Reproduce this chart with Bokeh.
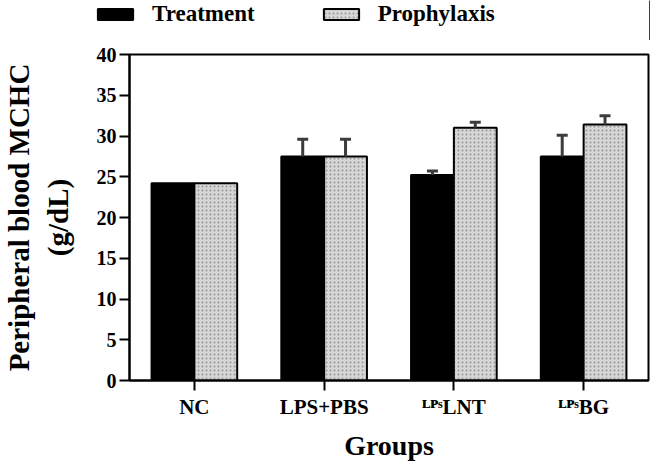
from bokeh.plotting import figure
from bokeh.layouts import column
from bokeh.models import (ColumnDataSource, Legend, LegendItem, FactorRange,
                          Range1d, FixedTicker)
from bokeh.transform import dodge
from bokeh.embed import file_html
from bokeh.resources import INLINE

# ---------------- data ----------------
groups = ["NC", "LPS+PBS", "\u1d38\u1d3e\u02e2LNT", "\u1d38\u1d3e\u02e2BG"]
treatment = [24.2, 27.5, 25.2, 27.5]
treatment_err = [0.0, 2.1, 0.5, 2.6]
prophylaxis = [24.2, 27.5, 31.0, 31.4]
prophylaxis_err = [0.0, 2.1, 0.7, 1.1]
y_ticks = [0, 5, 10, 15, 20, 25, 30, 35, 40]
series_names = ["Treatment", "Prophylaxis"]

# ---------------- style ----------------
FONT = "Liberation Serif"
BAR_W = 0.33
OFF = 0.165
ERR_COLOR = "#3c3c3c"
W = 650
LEG_H = 40
TREAT_STYLE = dict(fill_color="black", line_color="black", line_width=2)
PROPH_STYLE = dict(fill_color="#d6d6d6", line_color="black", line_width=2,
                   hatch_pattern="dot", hatch_color="#999999", hatch_scale=4,
                   hatch_weight=1.3)

# ---------------- main chart ----------------
p = figure(x_range=FactorRange(*groups), y_range=Range1d(0, 40),
           width=W, height=463 - LEG_H, output_backend="svg", toolbar_location=None,
           min_border_left=126, min_border_right=2, min_border_top=54 - LEG_H,
           min_border_bottom=77)
p.frame_align = False
p.background_fill_color = "white"
p.border_fill_color = "white"
p.outline_line_color = "black"
p.outline_line_width = 2
p.xgrid.visible = False
p.ygrid.visible = False

src_t = ColumnDataSource(dict(g=groups, v=treatment))
src_p = ColumnDataSource(dict(g=groups, v=prophylaxis))

p.vbar(x=dodge("g", -OFF, range=p.x_range), top="v", width=BAR_W, source=src_t,
       **TREAT_STYLE)
p.vbar(x=dodge("g", OFF, range=p.x_range), top="v", width=BAR_W, source=src_p,
       **PROPH_STYLE)

def err_source(vals, errs):
    g = [gg for gg, e in zip(groups, errs) if e > 0]
    lo = [v for v, e in zip(vals, errs) if e > 0]
    hi = [v + e for v, e in zip(vals, errs) if e > 0]
    return ColumnDataSource(dict(g=g, lo=lo, hi=hi))

for vals, errs, off in [(treatment, treatment_err, -OFF), (prophylaxis, prophylaxis_err, OFF)]:
    es = err_source(vals, errs)
    xx = dodge("g", off, range=p.x_range)
    p.segment(x0=xx, x1=xx, y0="lo", y1="hi", source=es, line_color=ERR_COLOR, line_width=3)
    p.scatter(x=xx, y="hi", source=es, marker="dash", size=11, line_color=ERR_COLOR,
              line_width=3)

for ax in (p.xaxis[0], p.yaxis[0]):
    ax.axis_line_width = 2
    ax.major_tick_line_width = 2
    ax.major_tick_out = 10
    ax.major_tick_in = 0
    ax.minor_tick_line_color = None
    ax.major_label_text_font = FONT
    ax.major_label_text_font_style = "bold"
    ax.major_label_text_color = "black"
    ax.axis_label_text_font = FONT
    ax.axis_label_text_font_style = "bold"
    ax.axis_label_text_color = "black"

p.yaxis.ticker = FixedTicker(ticks=y_ticks)
p.yaxis.major_label_text_font_size = "20px"
p.yaxis.major_label_standoff = 3
p.yaxis.axis_label = "Peripheral blood MCHC\n(g/dL)"
p.yaxis.axis_label_text_font_size = "29px"
p.yaxis.axis_label_standoff = 20

p.xaxis.major_label_text_font_size = "21px"
p.xaxis.major_label_standoff = 4
p.xaxis.axis_label = "Groups"
p.xaxis.axis_label_text_font_size = "28px"
p.xaxis.axis_label_standoff = 8

# ---------------- legend strip (own small figure above the chart) ----------------
lf = figure(width=W, height=LEG_H, x_range=Range1d(0, 1), y_range=Range1d(0, 1),
            x_axis_type=None, y_axis_type=None, output_backend="svg",
            toolbar_location=None, min_border_left=0, min_border_right=0,
            min_border_top=0, min_border_bottom=0)
lf.frame_align = False
lf.outline_line_color = None
lf.grid.visible = False
lf.background_fill_color = "white"
lf.border_fill_color = "white"
# legend-only key glyphs, kept outside the strip's visible range
key_src = ColumnDataSource(dict(x=[5.0], top=[1.0]))
lt = lf.vbar(x="x", top="top", width=0.1, source=key_src, **TREAT_STYLE)
lp = lf.vbar(x="x", top="top", width=0.1, source=key_src, **PROPH_STYLE)

legend = Legend(items=[LegendItem(label=series_names[0], renderers=[lt]),
                       LegendItem(label=series_names[1], renderers=[lp])],
                location=(93, 13), orientation="horizontal",
                glyph_width=44, glyph_height=14, label_standoff=15, spacing=64,
                padding=0, margin=0, border_line_color=None,
                background_fill_alpha=0,
                label_text_font=FONT, label_text_font_style="bold",
                label_text_font_size="23px", label_text_baseline="alphabetic",
                label_text_color="black")
lf.add_layout(legend, "center")

layout = column(lf, p, spacing=0)
open("out.html", "w").write(file_html(layout, INLINE))
